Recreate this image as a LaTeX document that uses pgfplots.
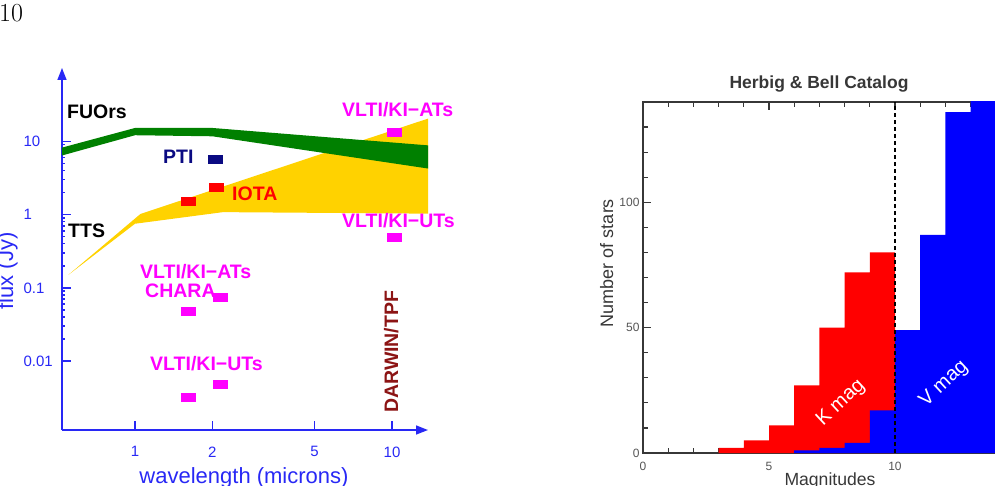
\documentclass[border=0pt]{standalone}
\usepackage{pgfplots}
\pgfplotsset{compat=1.18}
\usepackage{fontspec}
\setsansfont{Liberation Sans}
\usetikzlibrary{arrows.meta}

\definecolor{axblue}{RGB}{40,40,245}
\definecolor{fuogreen}{RGB}{0,128,0}
\definecolor{ttsgold}{RGB}{255,210,0}
\definecolor{ptinavy}{RGB}{10,10,130}
\definecolor{darwinred}{RGB}{140,20,20}
\definecolor{vltimag}{RGB}{255,0,255}
\definecolor{hbgray}{RGB}{55,55,55}
\definecolor{tickgray}{RGB}{85,85,85}
\definecolor{kred}{RGB}{255,0,0}
\definecolor{vblue}{RGB}{0,0,255}

\newcommand{\fs}[1]{\fontsize{#1}{#1}\selectfont}

\begin{document}
\begin{tikzpicture}[x=1pt,y=-1pt]
\useasboundingbox (0,0) rectangle (995,486);
\clip (0,0) rectangle (995,486);

% page number
\node[anchor=base west, inner sep=0pt] at (-1,22) {\rmfamily\fs{26}10};

% ---------------- left: flux versus wavelength ----------------
\begin{axis}[
  at={(62pt,-430pt)}, anchor=south west,
  scale only axis, width=366pt, height=362pt,
  xmode=log, ymode=log,
  xmin=0.52, xmax=13.8, ymin=0.00115, ymax=100,
  axis lines=left,
  axis line style={axblue, line width=1.5pt, -{Triangle[length=12pt,width=9pt]}},
  xtick={1,2,5,10}, xticklabels={1,2,5,10},
  ytick={0.01,0.1,1,10}, yticklabels={0.01,0.1,1,10},
  minor xtick={}, minor ytick={},
  tick align=inside, major tick length=9pt,
  tick style={axblue, line width=1.5pt},
  ticklabel style={font=\sffamily\fs{15}, text=axblue},
  xticklabel style={yshift=-13pt},
  yticklabel style={anchor=west, xshift=-42pt},
  clip=false,
]
% T Tauri stars
\addplot[fill=ttsgold, draw=none] coordinates {
  (0.55,0.15) (1.05,1.02) (13.8,20.4) (13.8,1.03) (2.2,1.08) (1.0,0.75)} -- cycle;
% FU Orionis objects
\addplot[fill=fuogreen, draw=none] coordinates {
  (0.52,8.2) (1,15.2) (2,15.2) (13.8,8.8) (13.8,4.25) (2,11.7) (1,12.1) (0.52,6.4)} -- cycle;
% interferometer sensitivities
\addplot[only marks, mark=square*, mark size=4pt,
  mark options={xscale=1.7, draw=ptinavy, fill=ptinavy, line width=0.1pt}]
  coordinates {(2.05,5.7)};
\addplot[only marks, mark=square*, mark size=4pt,
  mark options={xscale=1.7, draw=kred, fill=kred, line width=0.1pt}]
  coordinates {(1.61,1.52) (2.07,2.36)};
\addplot[only marks, mark=square*, mark size=4pt,
  mark options={xscale=1.7, draw=vltimag, fill=vltimag, line width=0.1pt}]
  coordinates {(10.2,13.3) (10.2,0.49) (1.61,0.048) (2.14,0.0745) (1.61,0.00321) (2.14,0.00484)};
\end{axis}

\begin{scope}[font=\sffamily\bfseries\fs{19.5}]
\node[anchor=base west, inner sep=0pt] at (67,119) {FUOrs};
\node[anchor=base west, inner sep=0pt] at (68,238) {TTS};
\node[anchor=base west, inner sep=0pt, text=ptinavy] at (163,164) {PTI};
\node[anchor=base west, inner sep=0pt, text=kred] at (232,201) {IOTA};
\node[anchor=base west, inner sep=0pt, text=vltimag] at (342,117) {VLTI/KI−ATs};
\node[anchor=base west, inner sep=0pt, text=vltimag] at (342,228) {VLTI/KI−UTs};
\node[anchor=base west, inner sep=0pt, text=vltimag] at (140,278) {VLTI/KI−ATs};
\node[anchor=base west, inner sep=0pt, text=vltimag] at (145,297) {CHARA};
\node[anchor=base west, inner sep=0pt, text=vltimag] at (150,370) {VLTI/KI−UTs};
\node[anchor=base west, inner sep=0pt, text=darwinred, rotate=90] at (398,413) {DARWIN/TPF};
\end{scope}
\node[anchor=base, inner sep=0pt, text=axblue, rotate=90, font=\sffamily\fs{22}] at (13,271) {flux (Jy)};
\node[anchor=base, inner sep=0pt, text=axblue, font=\sffamily\fs{22}] at (244,483) {wavelength (microns)};

% ---------------- right: Herbig & Bell histogram ----------------
\begin{axis}[
  at={(643pt,-453pt)}, anchor=south west,
  scale only axis, width=355.3pt, height=351pt,
  xmin=0, xmax=14.1, ymin=0, ymax=140,
  axis line style={hbgray, line width=1.2pt},
  xtick={0,5,10}, xticklabels={0,5,10},
  minor xtick={1,2,3,4,6,7,8,9,11,12,13,14},
  ytick={0,50,100}, yticklabels={0,50,100},
  minor ytick={10,20,30,40,60,70,80,90,110,120,130,140},
  tick align=inside, major tick length=8pt, minor tick length=5pt,
  tick style={hbgray, line width=1.2pt},
  ticklabel style={font=\sffamily\fs{12}, text=tickgray},
  xticklabel style={yshift=-6pt},
]
% K magnitudes
\addplot[fill=kred, draw=none, const plot] coordinates {
  (3,2) (4,5) (5,11) (6,27) (7,50) (8,72) (9,80) (10,80)} \closedcycle;
% V magnitudes
\addplot[fill=vblue, draw=none, const plot] coordinates {
  (6,1) (7,2) (8,4) (9,17) (10,49) (11,87) (12,136) (13,150) (14.1,150)} \closedcycle;
% completeness limit
\addplot[black, line width=1.2pt, dash pattern=on 4pt off 3pt] coordinates {(10,0) (10,140)};
\end{axis}

\node[anchor=base, inner sep=0pt, text=hbgray, font=\sffamily\bfseries\fs{17.5}] at (819,89) {Herbig \& Bell Catalog};
\node[anchor=base, inner sep=0pt, text=hbgray, rotate=90, font=\sffamily\fs{18}] at (613,263) {Number of stars};
\node[anchor=base, inner sep=0pt, text=hbgray, font=\sffamily\fs{17.6}] at (830,485) {Magnitudes};
\node[text=white, rotate=43, font=\sffamily\fs{20}] at (841,403) {K mag};
\node[text=white, rotate=43, font=\sffamily\fs{20}] at (944,384) {V mag};
\end{tikzpicture}
\end{document}
